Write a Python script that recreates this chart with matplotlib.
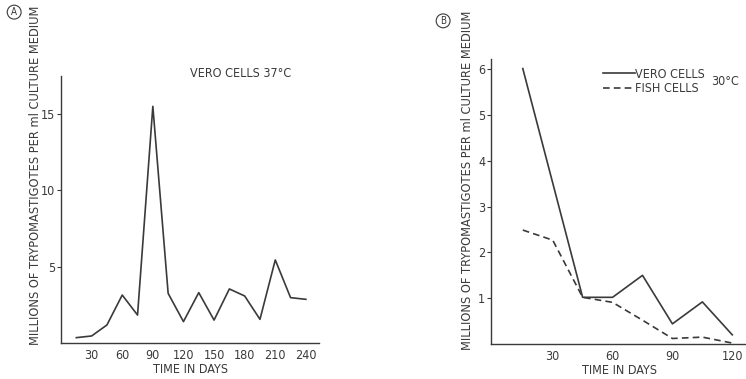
import matplotlib
matplotlib.use("Agg")
from matplotlib import pyplot as plt

plt.rcParams['font.family'] = ['DejaVu Sans']
plt.rcParams['font.stretch'] = 'condensed'

# panel A: Vero cells 37 C
days_a = [15, 30, 45, 60, 75, 90, 105, 120, 135, 150, 165, 180, 195, 210, 225, 240]
vero_37 = [0.35, 0.46, 1.18, 3.14, 1.83, 15.5, 3.25, 1.4, 3.3, 1.5, 3.54, 3.08, 1.55, 5.44, 2.97, 2.86]
ticks_a = [30, 60, 90, 120, 150, 180, 210, 240]
yticks_a = [5, 10, 15]

# panel B: 30 C
days_b = [15, 45, 60, 75, 90, 105, 120]
vero_30 = [6.02, 1.02, 1.02, 1.5, 0.44, 0.92, 0.2]
days_fish = [15, 30, 45, 60, 75, 90, 105, 120]
fish_30 = [2.49, 2.27, 1.02, 0.91, 0.52, 0.12, 0.15, 0.02]
ticks_b = [30, 60, 90, 120]
yticks_b = [1, 2, 3, 4, 5, 6]

ink = '#3a3a3a'
ylabel = 'MILLIONS OF TRYPOMASTIGOTES PER ml CULTURE MEDIUM'
fs = 9

fig = plt.figure(figsize=(7.46, 3.79), dpi=100)


def style(ax):
    for s in ['top', 'right']:
        ax.spines[s].set_visible(False)
    for s in ['left', 'bottom']:
        ax.spines[s].set_color(ink)
        ax.spines[s].set_linewidth(1.0)
    ax.tick_params(axis='y', length=3, width=0.8, color=ink, labelcolor=ink,
                   labelsize=fs, pad=1)
    ax.tick_params(axis='x', length=0, labelcolor=ink, labelsize=fs, pad=4)


ax1 = fig.add_axes([0.0818, 0.095, 0.346, 0.705])
ax1.plot(days_a, vero_37, color=ink, lw=1.2)
ax1.set_xlim(0, 253)
ax1.set_ylim(0, 17.5)
ax1.set_xticks(ticks_a)
ax1.set_yticks(yticks_a)
style(ax1)
ax1.set_xlabel('TIME IN DAYS', fontsize=fs, color=ink, labelpad=1)
fig.text(0.048, 0.538, ylabel, rotation=90, ha='center', va='center',
         fontsize=9.2, color=ink)
fig.text(0.255, 0.807, 'VERO CELLS 37\u00b0C', fontsize=fs, color=ink,
         ha='left', va='center')
fig.text(0.019, 0.968, 'A', fontsize=7, color=ink, ha='center', va='center',
         bbox=dict(boxstyle='circle,pad=0.2', fc='white', ec=ink, lw=0.8))

ax2 = fig.add_axes([0.658, 0.0924, 0.345, 0.752])
ax2.plot(days_b, vero_30, color=ink, lw=1.2, label='VERO CELLS')
ax2.plot(days_fish, fish_30, color=ink, lw=1.2, ls=(0, (4, 2.5)), label='FISH CELLS')
ax2.set_xlim(-1, 128)
ax2.set_ylim(0, 6.23)
ax2.set_xticks(ticks_b)
ax2.set_yticks(yticks_b)
style(ax2)
ax2.set_xlabel('TIME IN DAYS', fontsize=fs, color=ink, labelpad=1)
fig.text(0.627, 0.525, ylabel, rotation=90, ha='center', va='center',
         fontsize=9.2, color=ink)
ax2.legend(loc='upper left', bbox_to_anchor=(0.4, 1.0), frameon=False,
           fontsize=fs, handlelength=2.6, handletextpad=0.0, labelspacing=0.1,
           labelcolor=ink, borderpad=0.2)
fig.text(0.953, 0.786, '30\u00b0C', fontsize=fs, color=ink, ha='left', va='center')
fig.text(0.594, 0.945, 'B', fontsize=7, color=ink, ha='center', va='center',
         bbox=dict(boxstyle='circle,pad=0.2', fc='white', ec=ink, lw=0.8))

fig.savefig('out.png', dpi=100)
